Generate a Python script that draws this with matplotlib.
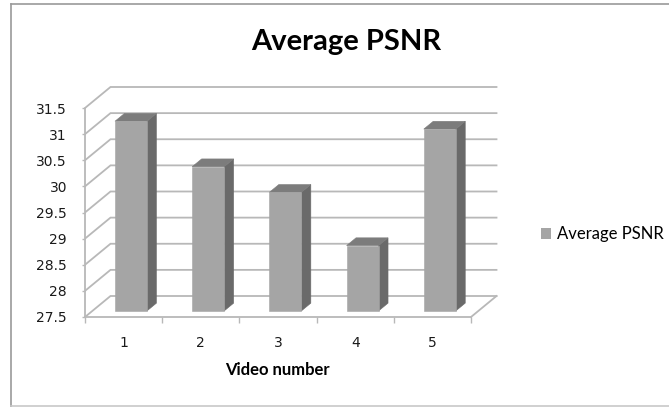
import matplotlib
matplotlib.use("Agg")
import matplotlib.pyplot as plt
from matplotlib.patches import Polygon, Rectangle
from matplotlib.lines import Line2D

# Data
videos = [1, 2, 3, 4, 5]
avg_psnr = [31.13, 30.26, 29.77, 28.75, 30.98]
y_ticks = [27.5, 28, 28.5, 29, 29.5, 30, 30.5, 31, 31.5]
title = "Average PSNR"
x_title = "Video number"
series_name = "Average PSNR"

W, H = 669, 407
fig = plt.figure(figsize=(W / 100, H / 100), dpi=100)

# Layout of the plot area in pixels
x0_px, cat_px = 85.0, 77.2      # left edge of the floor, width of one category
y0_px, unit_px = 317.0, 52.25   # baseline of the front plane, pixels per PSNR unit
xlim = (0.5, 5.9)
ylim = (27.3, 32.0)
ax_left = x0_px + (xlim[0] - 0.5) * cat_px
ax_right = x0_px + (xlim[1] - 0.5) * cat_px
ax_bottom = y0_px + (y_ticks[0] - ylim[0]) * unit_px
ax_top = y0_px - (ylim[1] - y_ticks[0]) * unit_px
ax = fig.add_axes([ax_left / W, 1 - ax_bottom / H,
                   (ax_right - ax_left) / W, (ax_bottom - ax_top) / H])
ax.set_xlim(*xlim)
ax.set_ylim(*ylim)

# Oblique depth offset (in data units) for the 3-D look
DX = 25.5 / cat_px
DY = 21.0 / unit_px


def proj(x, y, d):
    return (x + d * DX, y + d * DY)


grid_c = "#b8b8b8"
base = y_ticks[0]
x_lo, x_hi = 0.5, len(videos) + 0.5

# Side wall and back wall gridlines
for v in y_ticks:
    p0 = proj(x_lo, v, 0)
    p1 = proj(x_lo, v, 1)
    p2 = proj(x_hi, v, 1)
    ax.plot([p0[0], p1[0], p2[0]], [p0[1], p1[1], p2[1]],
            color=grid_c, lw=1.3, solid_joinstyle="miter", zorder=1)

# Floor right edge
f0 = proj(x_hi, base, 0)
f1 = proj(x_hi, base, 1)
ax.plot([f0[0], f1[0]], [f0[1], f1[1]], color=grid_c, lw=1.3, zorder=1)

# Columns
hw = 16.0 / cat_px
d0, d1 = 0.29, 0.66
front_c, side_c, top_c = "#a5a5a5", "#6a6a6a", "#7c7c7c"
for c, v in zip(videos, avg_psnr):
    front = [proj(c - hw, base, d0), proj(c + hw, base, d0),
             proj(c + hw, v, d0), proj(c - hw, v, d0)]
    side = [proj(c + hw, base, d0), proj(c + hw, base, d1),
            proj(c + hw, v, d1), proj(c + hw, v, d0)]
    top = [proj(c - hw, v, d0), proj(c + hw, v, d0),
           proj(c + hw, v, d1), proj(c - hw, v, d1)]
    for poly, col in ((side, side_c), (top, top_c), (front, front_c)):
        ax.add_patch(Polygon(poly, closed=True, facecolor=col,
                             edgecolor=col, lw=0.4, zorder=3))

# Axes: front-left value axis and front category axis
for s in ("top", "right"):
    ax.spines[s].set_visible(False)
ax.spines["left"].set_bounds(y_ticks[0], y_ticks[-1])
ax.spines["bottom"].set_bounds(x_lo, x_hi)
ax.spines["left"].set_position(("data", x_lo))
ax.spines["bottom"].set_position(("data", base))
for s in ("left", "bottom"):
    ax.spines[s].set_color(grid_c)
    ax.spines[s].set_linewidth(1.3)
ax.patch.set_alpha(0)

ax.set_yticks(y_ticks)
ax.set_yticklabels([f"{t:g}" for t in y_ticks])
ax.tick_params(axis="y", length=2.5, width=1.0, color=grid_c, pad=10.5,
               labelsize=10, labelcolor="#1a1a1a")

ax.set_xticks([x_lo + i for i in range(len(videos) + 1)])
ax.set_xticklabels([])
ax.tick_params(axis="x", which="major", length=4.5, width=1.0, color=grid_c)
ax.set_xticks(videos, minor=True)
ax.set_xticklabels([str(v) for v in videos], minor=True)
ax.tick_params(axis="x", which="minor", length=0, pad=14, labelsize=10,
               labelcolor="#1a1a1a")

# Titles and legend
fig.text(346 / W, 1 - 42 / H, title, ha="center", va="center",
         fontsize=21, fontweight="bold", family="Lato", color="black")
fig.text(277 / W, 1 - 370 / H, x_title, ha="center", va="center",
         fontsize=12, fontweight="bold", family="Lato", color="black")
fig.add_artist(Rectangle((541 / W, 1 - 239 / H), 10 / W, 11 / H,
                         transform=fig.transFigure, facecolor=front_c,
                         edgecolor="none"))
fig.text(557 / W, 1 - 234 / H, series_name, ha="left", va="center",
         fontsize=12, family="Lato", color="black")

# Chart area border
fig.add_artist(Line2D([10.5 / W, 1.0], [1 - 3.5 / H, 1 - 3.5 / H],
                      transform=fig.transFigure, color="#9a9a9a", lw=1.2))
fig.add_artist(Line2D([10.5 / W, 10.5 / W], [1 - 3.5 / H, 0],
                      transform=fig.transFigure, color="#9a9a9a", lw=1.2))
fig.add_artist(Line2D([10.5 / W, 1.0], [1 - 406 / H, 1 - 406 / H],
                      transform=fig.transFigure, color="#c8c8c8", lw=1.2))

fig.savefig("out.png", dpi=100)
